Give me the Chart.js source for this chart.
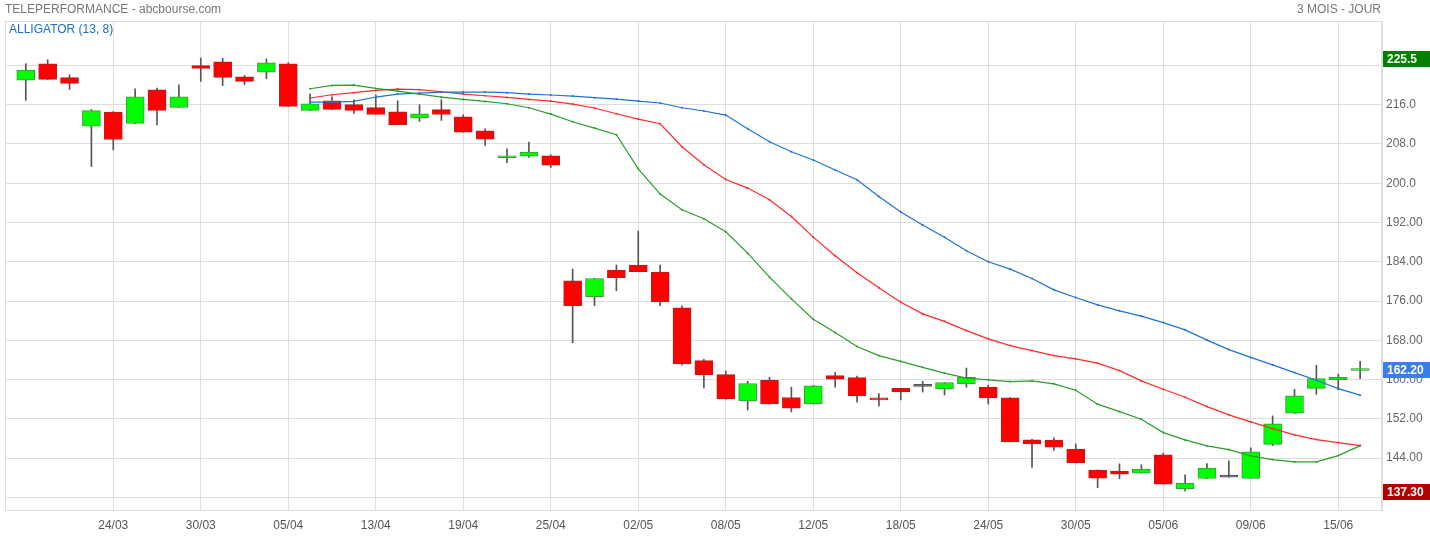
<!DOCTYPE html>
<html>
<head>
<meta charset="utf-8">
<script src="https://cdn.jsdelivr.net/npm/chart.js@4.4.0/dist/chart.umd.min.js"></script>
<style>
  html, body { margin: 0; padding: 0; background: #fff; }
  #wrap { position: relative; width: 1430px; height: 536px; font-family: "Liberation Sans", Arial, sans-serif; }
  #wrap canvas { position: absolute; left: 0; top: 0; }
  .lbl { position: absolute; font-size: 12px; line-height: 14px; color: #777; white-space: nowrap; }
</style>
</head>
<body>
<div id="wrap">
  <canvas id="chart" width="1430" height="536"></canvas>
  <div class="lbl" style="left:5px; top:2px;">TELEPERFORMANCE - abcbourse.com</div>
  <div class="lbl" style="right:49px; top:2px;">3 MOIS - JOUR</div>
  <div class="lbl" style="left:9px; top:22px; color:#1a6dcc;">ALLIGATOR (13, 8)</div>
</div>
<script>
// trading days, 20/03 -> 16/06
const dates = [
  "20/03","21/03","22/03","23/03","24/03","27/03","28/03","29/03","30/03","31/03",
  "03/04","04/04","05/04","06/04","11/04","12/04","13/04","14/04","17/04","18/04",
  "19/04","20/04","21/04","24/04","25/04","26/04","27/04","28/04",
  "02/05","03/05","04/05","05/05","08/05","09/05","10/05","11/05","12/05","15/05",
  "16/05","17/05","18/05","19/05","22/05","23/05","24/05","25/05","26/05","29/05",
  "30/05","31/05",
  "01/06","02/06","05/06","06/06","07/06","08/06","09/06","12/06","13/06","14/06",
  "15/06","16/06"
];

const opens = [
  221.0, 224.35, 221.5, 211.6, 214.5, 212.2, 219.05, 215.45, 223.95, 224.75,
  221.7, 222.65, 224.35, 214.85, 216.8, 216.0, 215.4, 214.55, 213.3, 215.0,
  213.55, 210.65, 205.2, 205.5, 205.6, 180.1, 176.9, 182.3, 183.35, 181.9,
  174.6, 163.85, 161.0, 155.65, 159.85, 156.35, 155.05, 160.8, 160.4, 156.2,
  158.2, 158.6, 158.1, 159.1, 158.45, 156.3, 147.75, 147.65, 145.85, 141.55,
  141.35, 140.95, 144.65, 137.7, 139.85, 140.1, 139.85, 146.8, 153.15, 158.2,
  160.0, 161.85
];
const highs = [
  224.35, 225.15, 222.1, 215.0, 214.6, 219.25, 219.4, 220.05, 225.5, 225.45,
  221.95, 225.35, 224.55, 218.2, 217.6, 217.0, 218.0, 216.8, 216.0, 217.0,
  213.95, 211.1, 207.0, 208.4, 205.8, 182.5, 180.65, 183.35, 190.25, 183.35,
  175.0, 164.15, 161.75, 159.65, 160.45, 158.45, 158.8, 161.5, 160.7, 157.15,
  158.25, 159.65, 159.4, 162.35, 158.85, 156.35, 147.85, 148.15, 146.9, 141.6,
  142.85, 142.65, 145.0, 140.6, 142.9, 143.45, 146.1, 152.6, 158.0, 162.9,
  161.1, 163.7
];
const lows = [
  216.9, 221.1, 219.1, 203.4, 206.8, 212.15, 211.9, 215.4, 220.75, 219.9,
  220.1, 221.3, 215.6, 214.8, 215.0, 214.2, 214.0, 211.95, 212.6, 212.8,
  210.4, 207.7, 204.2, 205.25, 203.2, 167.5, 175.05, 178.1, 182.0, 175.05,
  163.0, 158.3, 156.0, 153.8, 155.0, 153.4, 155.0, 158.45, 155.4, 154.6,
  155.85, 157.45, 156.85, 158.45, 155.0, 147.3, 142.1, 145.55, 143.0, 138.0,
  139.8, 140.9, 138.7, 137.3, 139.85, 140.1, 139.85, 146.55, 153.1, 157.0,
  157.9, 160.2
];
const closes = [
  223.05, 221.15, 220.35, 214.8, 208.9, 217.6, 214.85, 217.6, 223.4, 221.55,
  220.75, 224.55, 215.65, 216.2, 215.05, 214.85, 214.0, 211.95, 214.15, 214.0,
  210.4, 209.0, 205.3, 206.35, 203.7, 175.05, 180.6, 180.75, 182.0, 175.85,
  163.2, 160.95, 156.05, 159.2, 155.05, 154.2, 158.75, 160.1, 156.65, 155.85,
  157.5, 158.6, 159.4, 160.45, 156.25, 147.3, 146.9, 146.25, 143.0, 139.9,
  140.75, 141.75, 138.7, 138.9, 141.95, 140.1, 145.3, 151.0, 156.7, 160.2,
  160.45, 162.2
];

// alligator lines, first value at candle index 13
const lineStart = 13;
const jaw = [
  216.54, 216.54, 216.66, 217.56, 218.17, 218.37, 218.58, 218.58, 218.58, 218.44,
  218.17, 217.97, 217.76, 217.42, 217.15, 216.74, 216.34, 215.38, 214.71, 213.89,
  211.1, 208.45, 206.41, 204.72, 202.68, 200.7, 197.3, 194.12, 191.47, 188.98,
  186.23, 183.99, 182.5, 180.58, 178.28, 176.71, 175.22, 174.0, 172.92, 171.61,
  170.13, 168.03, 166.11, 164.52, 162.99, 161.42, 159.87, 158.16, 156.82
];
const teeth = [
  217.36, 218.03, 218.44, 218.9, 219.19, 219.05, 218.64, 218.17, 217.82, 217.48,
  217.07, 216.74, 216.13, 215.32, 214.15, 213.07, 212.12, 207.43, 203.76, 200.76,
  199.01, 196.63, 193.22, 189.02, 185.21, 181.75, 178.69, 175.77, 173.39, 171.86,
  169.98, 168.29, 166.93, 165.91, 164.89, 164.22, 163.34, 161.83, 159.73, 158.04,
  156.41, 154.5, 152.81, 151.38, 150.01, 148.73, 147.77, 147.16, 146.55
];
const lips = [
  219.25, 219.92, 220.0, 219.31, 218.78, 218.17, 217.56, 217.07, 216.66, 216.19,
  215.38, 214.09, 212.52, 211.24, 209.87, 202.94, 197.79, 194.59, 192.75, 190.1,
  185.76, 180.87, 176.45, 172.31, 169.58, 166.73, 164.89, 163.71, 162.49, 161.3,
  160.29, 159.94, 159.59, 159.74, 159.13, 157.84, 154.99, 153.48, 151.93, 149.2,
  147.71, 146.49, 145.74, 144.45, 143.7, 143.23, 143.23, 144.52, 146.55
];

const xTickIdx = [4, 8, 12, 16, 20, 24, 28, 32, 36, 40, 44, 48, 52, 56, 60];
const yTicks = [136, 144, 152, 160, 168, 176, 184, 192, 200, 208, 216, 224];

function fmtPrice(v) {
  return v >= 200 ? v.toFixed(1) : v.toFixed(2);
}

function candleColor(i, up, down, flat) {
  if (closes[i] > opens[i]) return up;
  if (closes[i] < opens[i]) return down;
  return flat;
}

function lineData(arr) {
  return arr.map((v, k) => ({ x: lineStart + k, y: v }));
}

const fill = opens.map((o, i) => candleColor(i, "#00ff00", "#ff0000", "#555555"));
const edge = opens.map((o, i) => candleColor(i, "#3a9a3a", "#b42020", "#555555"));

// chart border all round
const framePlugin = {
  id: "frame",
  beforeDatasetsDraw(chart) {
    const { ctx, chartArea: a } = chart;
    ctx.save();
    ctx.strokeStyle = "#dddddd";
    ctx.lineWidth = 1;
    ctx.strokeRect(a.left + 0.5, a.top + 0.5, a.right - a.left - 1, a.bottom - a.top);
    ctx.restore();
  }
};

// highest / last / lowest price tags on the right axis
const tagPlugin = {
  id: "priceTags",
  afterDraw(chart) {
    const { ctx, chartArea: a } = chart;
    const y = chart.scales.y;
    const tags = [
      { v: Math.max(...highs), bg: "#008000" },
      { v: closes[closes.length - 1], bg: "#3b7cf0" },
      { v: Math.min(...lows), bg: "#b00000" }
    ];
    ctx.save();
    ctx.font = "bold 12px 'Liberation Sans', Arial, sans-serif";
    ctx.textBaseline = "middle";
    ctx.textAlign = "left";
    tags.forEach(t => {
      const py = Math.round(y.getPixelForValue(t.v)) + 1;
      ctx.fillStyle = t.bg;
      ctx.fillRect(a.right + 1, py - 8, chart.width - a.right - 1, 16);
      ctx.fillStyle = "#ffffff";
      ctx.fillText(fmtPrice(t.v), a.right + 5, py + 0.5);
    });
    ctx.restore();
  }
};

Chart.defaults.font.family = "'Liberation Sans', Arial, sans-serif";
Chart.defaults.font.size = 12;

new Chart(document.getElementById("chart"), {
  type: "bar",
  data: {
    datasets: [
      {
        type: "line",
        label: "jaw",
        data: lineData(jaw),
        borderColor: "#1f72d4",
        backgroundColor: "#1f72d4",
        borderWidth: 1.2,
        pointRadius: 1,
        pointBorderWidth: 0,
        tension: 0,
        order: 0
      },
      {
        type: "line",
        label: "teeth",
        data: lineData(teeth),
        borderColor: "#ff2a2a",
        backgroundColor: "#ff2a2a",
        borderWidth: 1.2,
        pointRadius: 1,
        pointBorderWidth: 0,
        tension: 0,
        order: 0
      },
      {
        type: "line",
        label: "lips",
        data: lineData(lips),
        borderColor: "#2c9c2c",
        backgroundColor: "#2c9c2c",
        borderWidth: 1.2,
        pointRadius: 1,
        pointBorderWidth: 0,
        tension: 0,
        order: 0
      },
      {
        label: "body",
        data: opens.map((o, i) => ({ x: i, y: [o, closes[i]] })),
        backgroundColor: fill,
        borderColor: edge,
        borderWidth: 1,
        borderSkipped: false,
        minBarLength: 2,
        grouped: false,
        barThickness: 18,
        maxBarThickness: 18,
        order: 1
      },
      {
        label: "wick",
        data: lows.map((l, i) => ({ x: i, y: [l, highs[i]] })),
        backgroundColor: "#555555",
        borderWidth: 0,
        grouped: false,
        barThickness: 1,
        maxBarThickness: 1,
        order: 2
      }
    ]
  },
  options: {
    responsive: false,
    animation: false,
    events: [],
    layout: { padding: { left: 5, top: 21, right: 0, bottom: 0 } },
    plugins: {
      legend: { display: false },
      tooltip: { enabled: false }
    },
    scales: {
      x: {
        type: "linear",
        offset: false,
        min: -0.95,
        max: 62,
        afterBuildTicks(scale) {
          scale.ticks = xTickIdx.map(v => ({ value: v }));
        },
        afterFit(scale) { scale.height = 26; },
        grid: { color: "#dddddd", lineWidth: 1, drawTicks: false, offset: false },
        border: { display: true, color: "#dddddd" },
        ticks: {
          color: "#555555",
          padding: 8,
          maxRotation: 0,
          autoSkip: false,
          callback: v => dates[v]
        }
      },
      y: {
        position: "right",
        min: 133.43,
        max: 233.05,
        afterBuildTicks(scale) {
          scale.ticks = yTicks.map(v => ({ value: v }));
        },
        afterFit(scale) { scale.width = 48; },
        grid: { color: "#dddddd", lineWidth: 1, drawTicks: false },
        border: { display: true, color: "#dddddd" },
        ticks: {
          color: "#666666",
          padding: 4,
          callback: v => (v === yTicks[0] || v === yTicks[yTicks.length - 1]) ? "" : fmtPrice(v)
        }
      }
    }
  },
  plugins: [framePlugin, tagPlugin]
});
</script>
</body>
</html>
